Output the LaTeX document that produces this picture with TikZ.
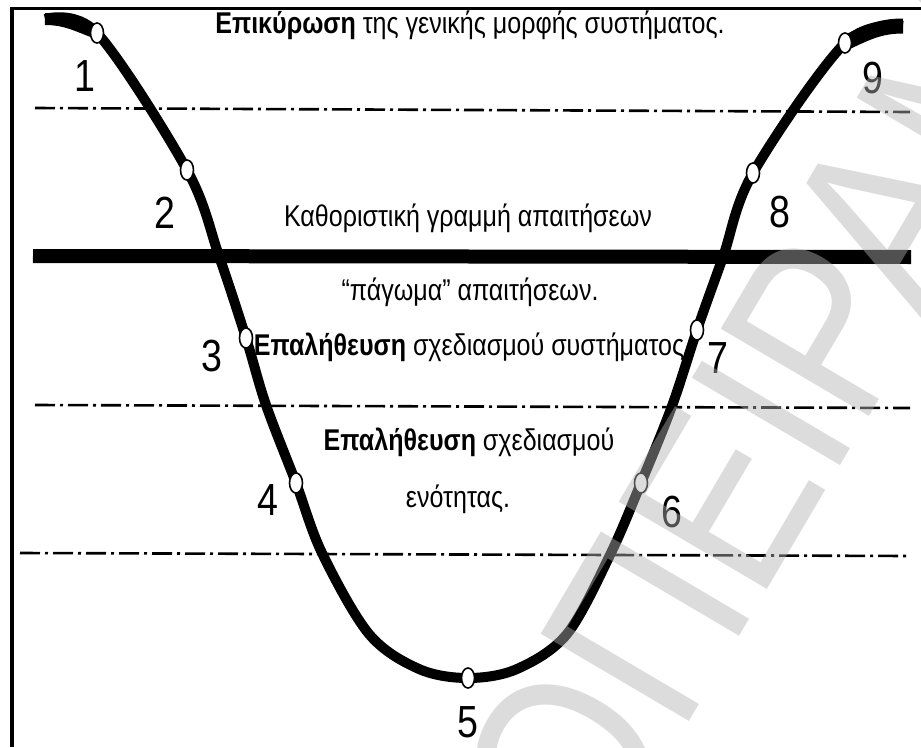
\documentclass[tikz,border=0pt]{standalone}
\usepackage{fontspec}
\setmainfont{Liberation Sans}[FakeStretch=0.835]
\newfontfamily\wmfont{Liberation Sans}[FakeStretch=0.85]
\usetikzlibrary{shapes.geometric}
\tikzset{
  txt/.style={font=\fontsize{30}{36}\selectfont, anchor=base, inner sep=0pt},
  num/.style={font=\fontsize{45}{50}\selectfont, inner sep=0pt},
  dot/.style={ellipse, draw=black, fill=white, line width=1.6pt, minimum width=13pt, minimum height=20pt, inner sep=0pt},
  level/.style={line width=2.6pt, dash pattern=on 20pt off 5pt on 3pt off 5pt},
  freeze/.style={line width=14pt},
  vcurve/.style={line width=10pt, line join=round},
  frame/.style={line width=3.5pt},
}

\begin{document}
\begin{tikzpicture}[x=1pt, y=-1pt]
  \useasboundingbox (0,0) rectangle (921,747);
  % frame
  \draw[frame] (10,8.5) -- (921,8.5);
  \draw[frame] (12,7) -- (12,747);
  % levels
  \draw[level] (35,108) -- (910,112);
  \draw[freeze] (33,256) -- (911,257);
  \draw[level] (35,405) -- (910,408);
  \draw[level] (20,553) -- (910,556);
  % the V curve
  \foreach \i/\x/\y in {1/97/33, 2/187/170, 3/246/338, 4/296/483, 5/468/678,
                        6/641/483, 7/697/330, 8/753/173, 9/845/43}
    \coordinate (k\i) at (\x,\y);
  \draw[vcurve] plot[smooth, tension=0.55] coordinates {(45,19) (k1) (k2) (219,256) (k3) (266,405)
      (k4) (322,553) (369,634) (419,669) (k5) (517,669) (567,634) (610,555) (k6) (672,406) (k7) (723,257) (k8) (k9) (903,26)};
  % thicker ends
  \draw[line width=12pt] (45,19) to[out=0, in=160] (k1);
  \draw[line width=15pt] (k9) to[out=25, in=180] (903,26);
  \foreach \i in {1,...,9} \node[dot] (p\i) at (k\i) {};
  % numbers
  \foreach \i/\x/\y in {1/85/76, 2/165/213, 3/212/356, 4/268/500, 5/468/722,
                        6/672/512, 7/718/358, 8/780/212, 9/873/78}
    \node[num] (n\i) at (\x,\y) {\i};
  % texts
  \node[txt] (title) at (470,33) {\textbf{Επικύρωση} της γενικής μορφής συστήματος.};
  \node[txt] (base) at (468,226) {Καθοριστική γραμμή απαιτήσεων};
  \node[txt] (freezing) at (470,300) {“πάγωμα” απαιτήσεων.};
  \node[txt] (sysver) at (469,355) {\textbf{Επαλήθευση} σχεδιασμού συστήματος};
  \node[txt] (unitver) at (469,450) {\textbf{Επαλήθευση} σχεδιασμού};
  \node[txt] (unit) at (458,507) {ενότητας.};
  % watermark
  \begin{scope}
    \clip (0,0) rectangle (921,747);
    \node[black!30, opacity=0.45, rotate=59.5, font=\wmfont\fontsize{250}{250}\selectfont, inner sep=0pt] (wm) at (767,420) {ΟΠΕΙΡΑΜ};
  \end{scope}
\end{tikzpicture}
\end{document}
